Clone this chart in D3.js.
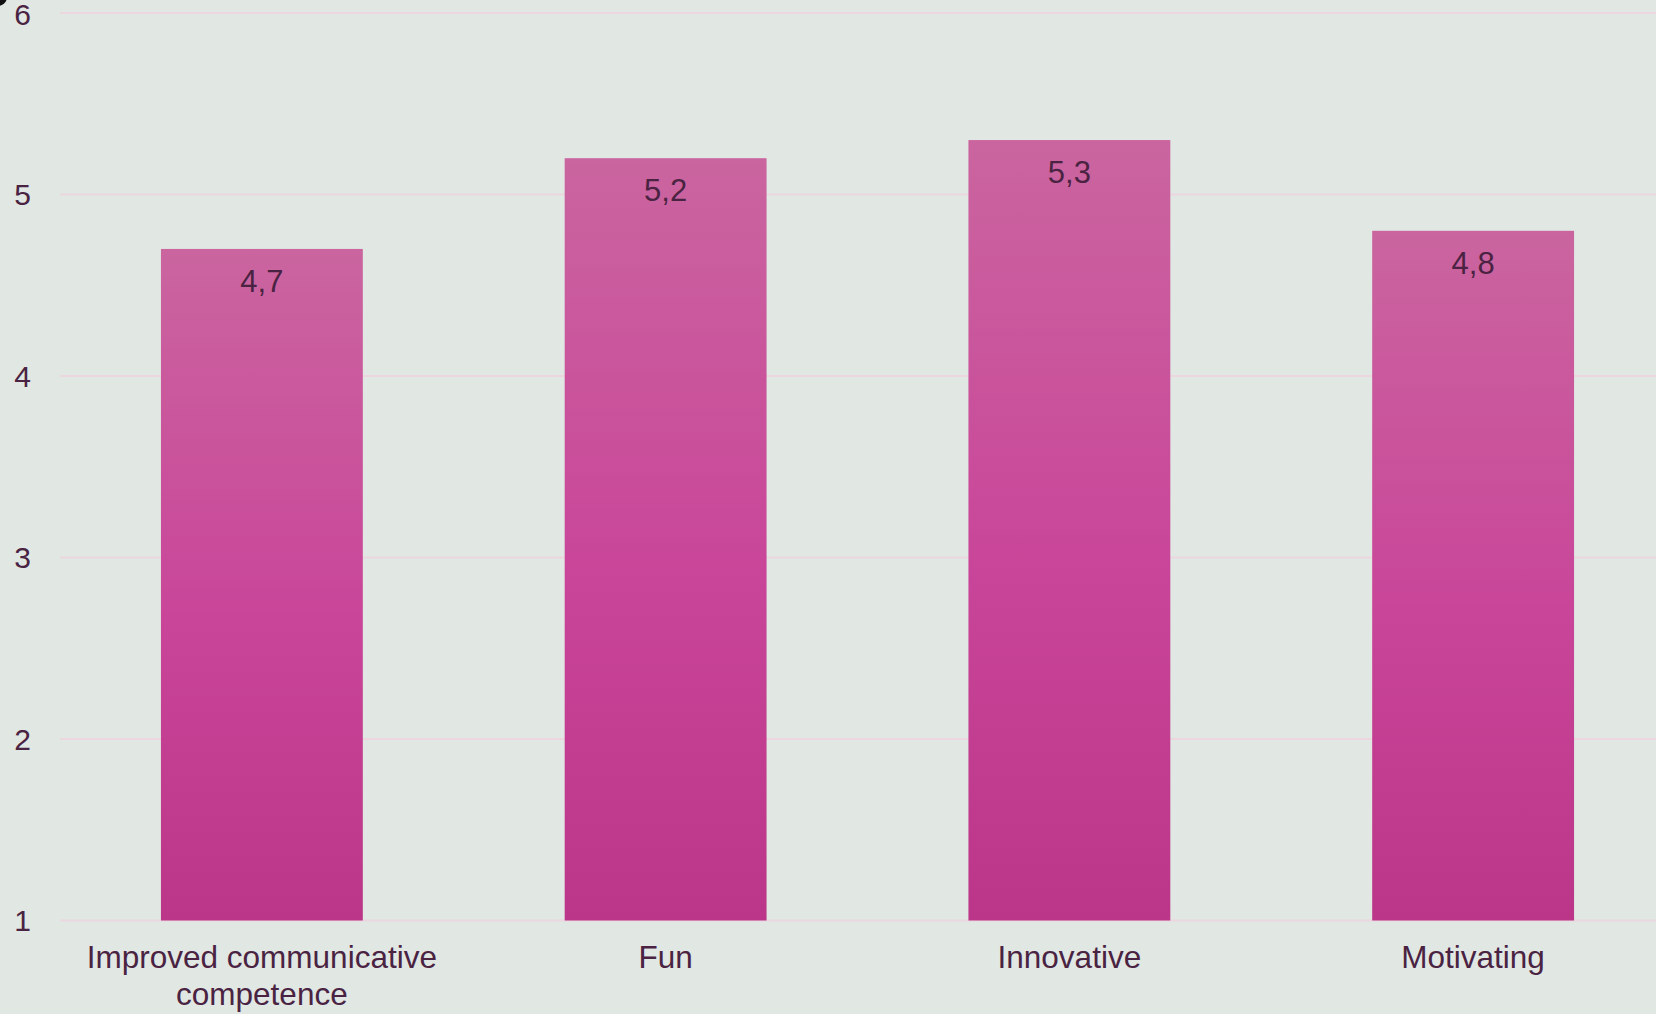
<!DOCTYPE html>
<html>
<head>
<meta charset="utf-8">
<script src="https://cdn.jsdelivr.net/npm/d3@7"></script>
<style>
  html, body { margin: 0; padding: 0; background: #e1e7e3; overflow: hidden; }
  svg { display: block; font-family: "Liberation Sans", Arial, sans-serif; }
</style>
</head>
<body>
<svg id="drawspace" width="1656" height="1014"></svg>
<script>
const categories = ["Improved communicative competence", "Fun", "Innovative", "Motivating"];
const categoryLines = [["Improved communicative", "competence"], ["Fun"], ["Innovative"], ["Motivating"]];
const scores = [4.7, 5.2, 5.3, 4.8];
const scoreLabels = ["4,7", "5,2", "5,3", "4,8"];
const yTicks = [1, 2, 3, 4, 5, 6];

const width = 1656;
const height = 1014;
const textColor = "#4a2342";

let drawspace = d3.select("#drawspace");

drawspace.append("rect")
  .attr("width", width).attr("height", height)
  .attr("fill", "#e1e7e3");

var grad = drawspace.append("defs").append("linearGradient")
  .attr("id", "barFill")
  .attr("x1", 0).attr("y1", 0).attr("x2", 0).attr("y2", 1);
grad.append("stop").attr("offset", "0%").attr("stop-color", "#ca659f");
grad.append("stop").attr("offset", "55%").attr("stop-color", "#c94599");
grad.append("stop").attr("offset", "100%").attr("stop-color", "#bb3688");

var xScale = d3.scaleBand()
  .domain(categories)
  .range([60, 1675])
  .paddingInner(0.5)
  .paddingOuter(0.25);

var yScale = d3.scaleLinear()
  .domain([1, 6])
  .range([920.5, 13]);

// gridlines
drawspace.append("g")
  .selectAll("line")
  .data(yTicks)
  .enter()
  .append("line")
  .attr("x1", 60)
  .attr("x2", width)
  .attr("y1", (d) => yScale(d))
  .attr("y2", (d) => yScale(d))
  .attr("stroke", "#ecd7e1")
  .attr("stroke-width", 2);

// y labels
drawspace.append("g")
  .selectAll("text")
  .data(yTicks)
  .enter()
  .append("text")
  .attr("x", 31)
  .attr("y", (d) => Math.max(yScale(d), 14))
  .attr("dy", "0.36em")
  .attr("text-anchor", "end")
  .attr("font-size", "30px")
  .attr("fill", textColor)
  .text((d) => d);

// bars
drawspace.append("g")
  .selectAll("rect")
  .data(categories)
  .enter()
  .append("rect")
  .attr("x", (d) => xScale(d))
  .attr("y", (d, i) => yScale(scores[i]))
  .attr("width", xScale.bandwidth())
  .attr("height", (d, i) => yScale(1) - yScale(scores[i]))
  .attr("fill", "url(#barFill)");

// value labels
drawspace.append("g")
  .selectAll("text")
  .data(categories)
  .enter()
  .append("text")
  .attr("x", (d) => xScale(d) + xScale.bandwidth() / 2)
  .attr("y", (d, i) => yScale(scores[i]) + 43)
  .attr("text-anchor", "middle")
  .attr("font-size", "31px")
  .attr("fill", textColor)
  .text((d, i) => scoreLabels[i]);

// category labels
var cats = drawspace.append("g")
  .selectAll("text")
  .data(categories)
  .enter()
  .append("text")
  .attr("x", (d) => xScale(d) + xScale.bandwidth() / 2)
  .attr("y", 968)
  .attr("text-anchor", "middle")
  .attr("font-size", "31.5px")
  .attr("fill", textColor);

cats.each(function (d, i) {
  let t = d3.select(this);
  categoryLines[i].forEach((line, j) => {
    t.append("tspan")
      .attr("x", xScale(d) + xScale.bandwidth() / 2)
      .attr("dy", j === 0 ? 0 : 37)
      .text(line);
  });
});

// small dark mark in the top-left corner
drawspace.append("circle")
  .attr("cx", -2).attr("cy", -3).attr("r", 9)
  .attr("fill", "#111");
</script>
</body>
</html>
